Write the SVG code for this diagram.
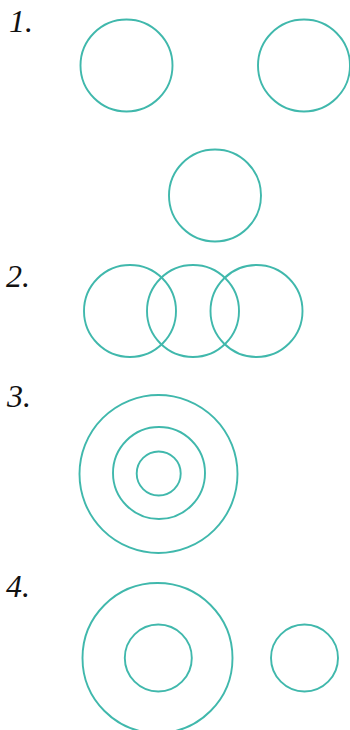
<svg xmlns="http://www.w3.org/2000/svg" width="350" height="730" viewBox="0 0 350 730">
<style>
.c{fill:none;stroke:#40b8ac;stroke-width:1.9}
.l{font-family:"Liberation Serif","Times New Roman",serif;font-style:italic;font-size:32px;fill:#111}
</style>
<rect width="350" height="730" fill="#fff"/>
<g id="fig1">
<text class="l" x="9" y="32">1.</text>
<circle class="c" cx="126.5" cy="65.5" r="46"/>
<circle class="c" cx="304" cy="65.5" r="46"/>
<circle class="c" cx="215" cy="195.5" r="46"/>
</g>
<g id="fig2">
<text class="l" x="6" y="287">2.</text>
<circle class="c" cx="130" cy="311" r="46"/>
<circle class="c" cx="193" cy="311" r="46"/>
<circle class="c" cx="256.5" cy="311" r="46"/>
</g>
<g id="fig3">
<text class="l" x="7" y="407">3.</text>
<circle class="c" cx="158.5" cy="474" r="79"/>
<circle class="c" cx="159" cy="473" r="46"/>
<circle class="c" cx="158.7" cy="473.5" r="22"/>
</g>
<g id="fig4">
<text class="l" x="6" y="597">4.</text>
<circle class="c" cx="157.5" cy="658" r="75"/>
<circle class="c" cx="158.3" cy="658" r="33.5"/>
<circle class="c" cx="304.5" cy="658" r="33.5"/>
</g>
<g id="connectors"/>
</svg>
